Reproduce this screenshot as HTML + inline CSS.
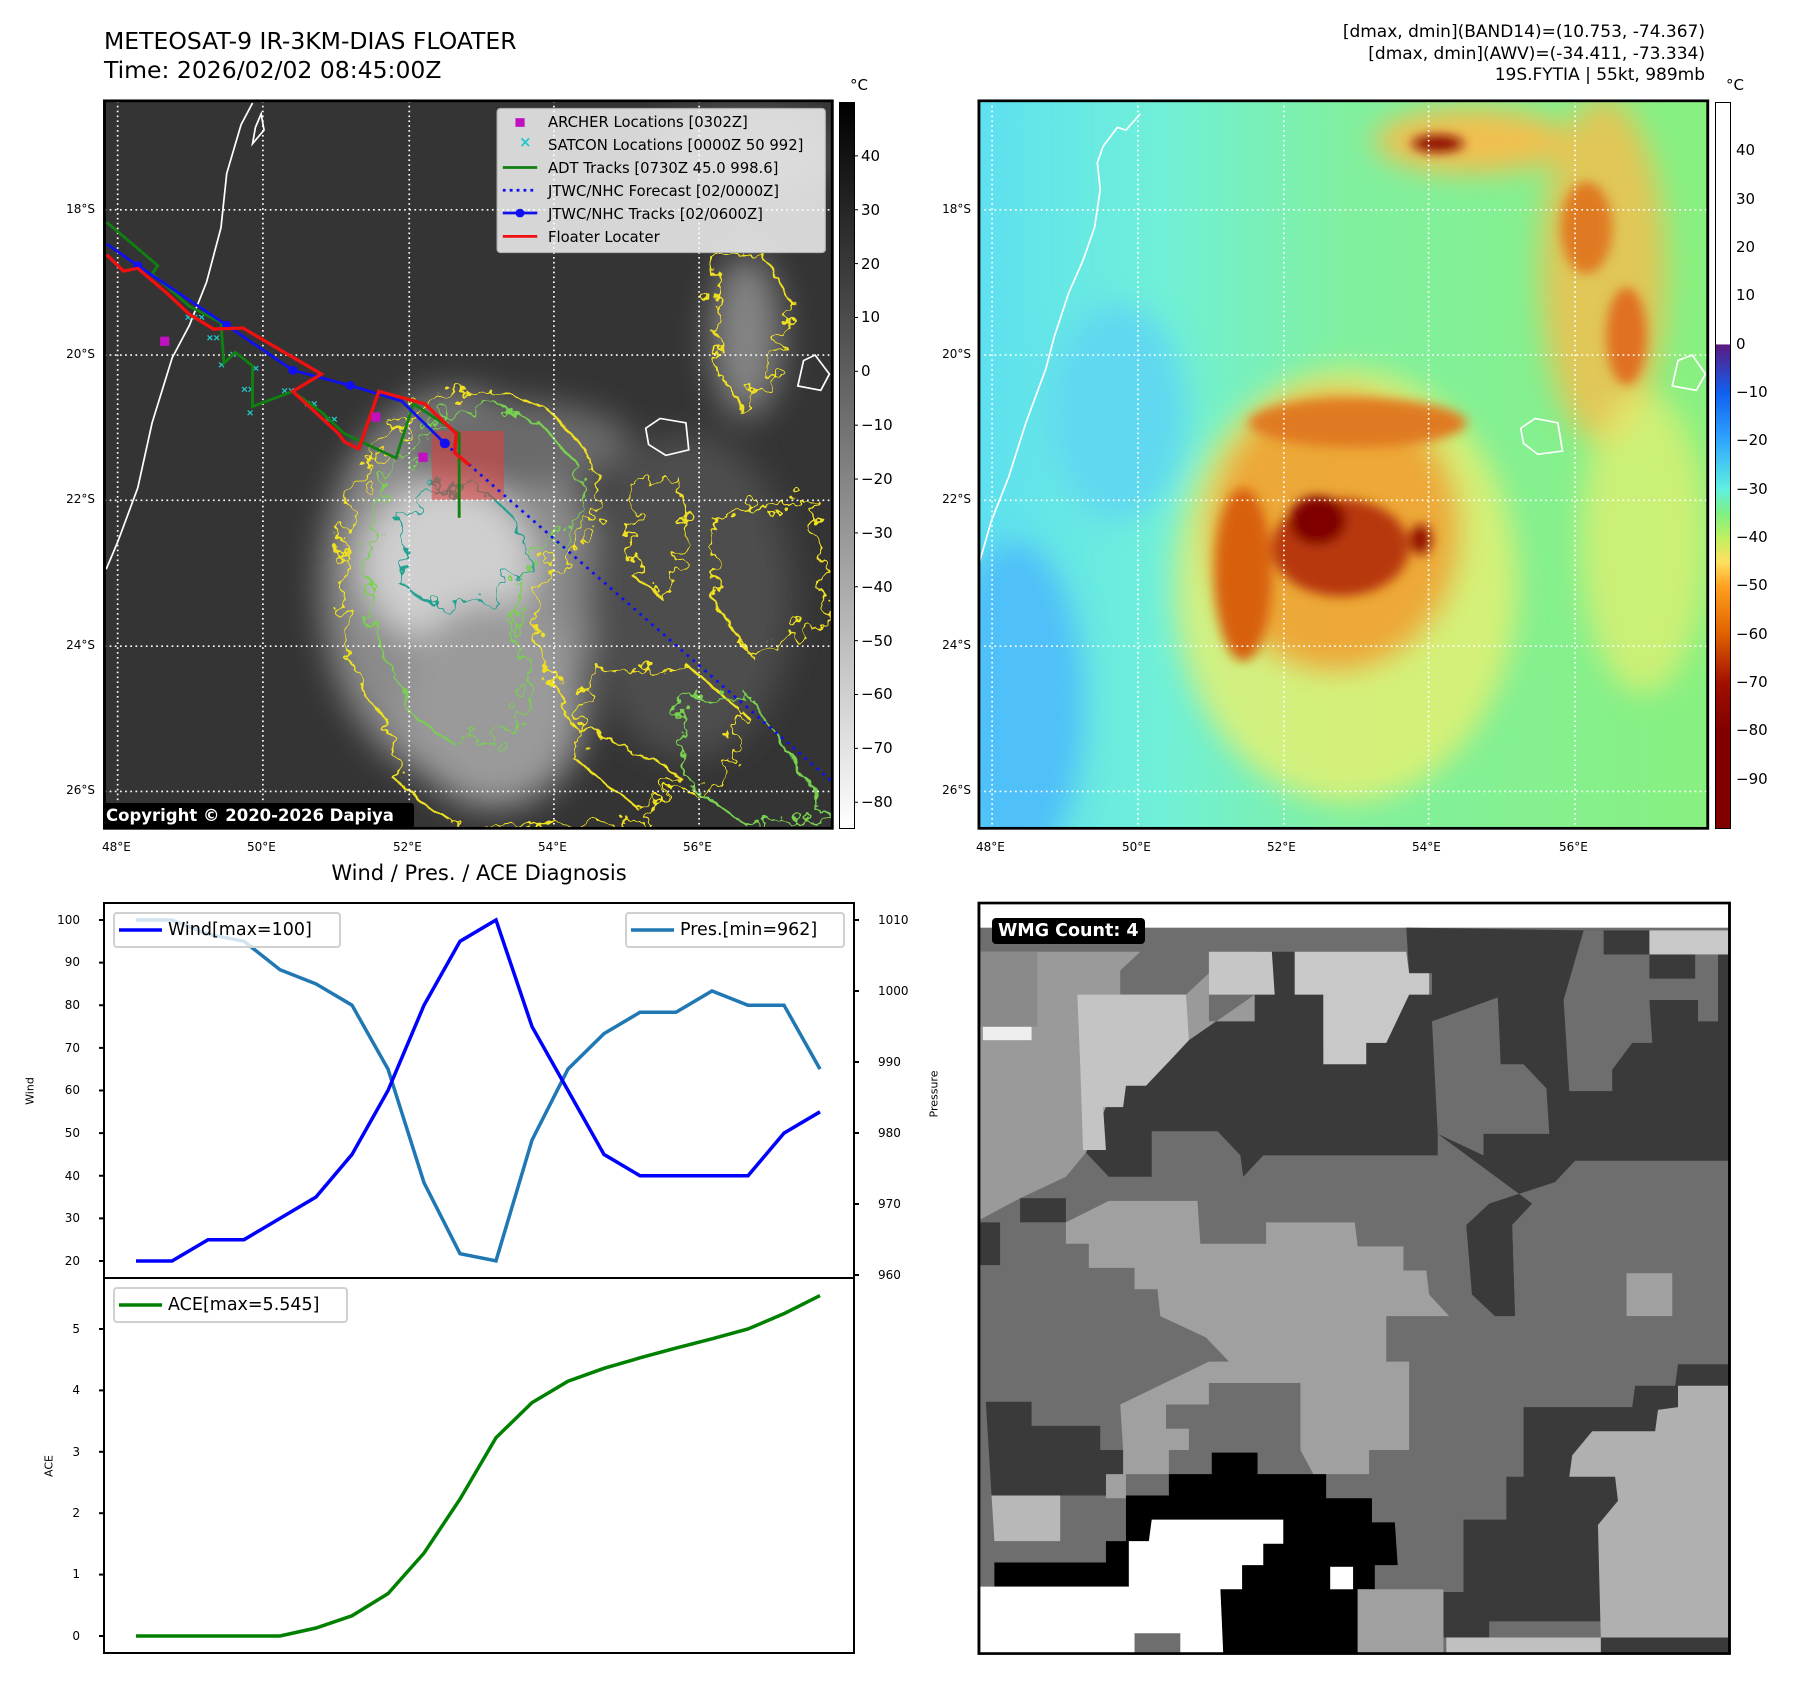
<!DOCTYPE html>
<html><head><meta charset="utf-8">
<style>
body{margin:0;background:#fff;}
#root{position:relative;width:1797px;height:1690px;overflow:hidden;background:#fff;font-family:"DejaVu Sans","Liberation Sans",sans-serif;color:#000;}
.t{position:absolute;white-space:nowrap;}
svg{position:absolute;}
</style></head>
<body>
<div id="root">

<div class="t" style="left:104px;top:27px;font-size:23.5px;line-height:29px;">METEOSAT-9 IR-3KM-DIAS FLOATER<br>Time: 2026/02/02 08:45:00Z</div>
<div class="t" style="right:92px;top:22px;font-size:17px;line-height:21.5px;text-align:right;">[dmax, dmin](BAND14)=(10.753, -74.367)<br>[dmax, dmin](AWV)=(-34.411, -73.334)<br>19S.FYTIA | 55kt, 989mb</div>

<!-- LEFT MAP -->
<svg style="left:0;top:0" width="900" height="850" viewBox="0 0 1568 1568" preserveAspectRatio="none">
<defs>
<clipPath id="c1"><rect x="182" y="186" width="1268" height="1342"/></clipPath>
<filter id="bl" x="-50%" y="-50%" width="200%" height="200%"><feGaussianBlur stdDeviation="30"/></filter>
<filter id="wig" x="-20%" y="-20%" width="140%" height="140%"><feTurbulence type="fractalNoise" baseFrequency="0.03" numOctaves="3" seed="3"/><feDisplacementMap in="SourceGraphic" scale="70"/></filter>
</defs>
<g clip-path="url(#c1)">
<rect x="182" y="186" width="1268" height="1342" fill="#343434"/>
<g filter="url(#bl)">
<ellipse cx="800" cy="1080" rx="240" ry="360" fill="#8a8a8a"/>
<ellipse cx="780" cy="1040" rx="150" ry="150" fill="#cfcfcf"/>
<ellipse cx="860" cy="1300" rx="160" ry="190" fill="#9a9a9a"/>
<ellipse cx="1300" cy="620" rx="60" ry="150" fill="#858585"/>
<ellipse cx="900" cy="820" rx="200" ry="80" fill="#6a6a6a"/>
<ellipse cx="1200" cy="1100" rx="180" ry="300" fill="#4e4e4e"/>
<ellipse cx="1300" cy="280" rx="160" ry="90" fill="#505050"/>
</g>
<g fill="none" stroke-width="4" filter="url(#wig)">
<path d="M600,1000 L620,900 690,800 760,730 870,720 960,760 1020,830 1050,920 1010,1000 940,1060 930,1150 960,1250 1000,1340 1100,1380 1180,1430 1120,1520 800,1528 700,1450 680,1340 620,1250 600,1150Z" stroke="#f0e020"/>
<path d="M640,1000 L660,910 720,820 780,760 870,750 950,790 1000,850 1020,930 980,990 910,1040 900,1150 920,1260 900,1340 800,1380 720,1320 690,1240 640,1150Z" stroke="#78d050"/>
<path d="M700,960 L760,900 840,900 900,960 920,1040 860,1100 760,1120 700,1080Z" stroke="#20a090"/>
<path d="M1240,480 L1330,470 1380,560 1340,700 1290,760 1260,700 1250,600Z" stroke="#f0e020"/>
<path d="M1100,900 L1180,880 1200,1000 1150,1100 1100,1060Z" stroke="#f0e020"/>
<path d="M1250,950 L1420,920 1440,1150 1300,1200 1240,1100Z" stroke="#f0e020"/>
<path d="M1020,1250 L1200,1230 1300,1320 1250,1450 1100,1480 1000,1400Z" stroke="#f0e020"/>
<path d="M1180,1300 L1300,1280 1380,1400 1440,1500 1300,1520 1200,1450Z" stroke="#78d050"/>
</g>
<rect x="752" y="795" width="126" height="127" fill="#e04040" opacity="0.55"/>
<path d="M440,190 L420,230 395,320 385,420 360,520 330,600 300,660 265,780 240,900 205,1000 185,1050" fill="none" stroke="#fff" stroke-width="3"/>
<path d="M455,210 L460,240 440,265 445,235Z" fill="none" stroke="#fff" stroke-width="3"/>
<path d="M1125,790 L1150,772 1195,780 1200,830 1160,840 1130,820Z" fill="none" stroke="#fff" stroke-width="3"/>
<path d="M1390,712 L1400,665 1420,655 1445,690 1430,720Z" fill="none" stroke="#fff" stroke-width="3"/>
<g stroke="#fff" stroke-width="3" stroke-dasharray="3 6" fill="none">
<path d="M205,186V1528M458,186V1528M713,186V1528M965,186V1528M1218,186V1528"/>
<path d="M182,387H1450M182,655H1450M182,923H1450M182,1192H1450M182,1460H1450"/>
</g>
<g fill="#20c8c8" font-size="20" font-weight="bold" font-family="Liberation Sans,sans-serif">
<text x="322" y="592">×××</text><text x="360" y="630">××</text><text x="380" y="680">×</text><text x="400" y="660">×</text><text x="440" y="686">×</text><text x="420" y="725">××</text><text x="430" y="768">×</text><text x="490" y="728">××</text><text x="530" y="752">××</text><text x="565" y="780">××</text>
</g>
<polyline points="186,410 275,490 265,505 330,565 385,595 390,670 410,650 440,675 440,750 510,722 560,760 600,800 690,845 720,745 800,800 800,955" fill="none" stroke="#108010" stroke-width="5"/>
<polyline points="186,450 240,490 395,600 510,683 610,711 700,740 775,818" fill="none" stroke="#1010f0" stroke-width="5"/>
<g fill="#1010f0"><circle cx="240" cy="490" r="8"/><circle cx="395" cy="600" r="8"/><circle cx="510" cy="683" r="8"/><circle cx="610" cy="711" r="8"/><circle cx="775" cy="818" r="9"/></g>
<line x1="775" y1="818" x2="1450" y2="1442" stroke="#1010f0" stroke-width="5" stroke-dasharray="5 9"/>
<polyline points="186,470 215,500 240,495 290,540 330,580 372,607 423,605 560,690 510,722 590,800 600,815 625,828 660,722 740,745 795,800 792,835 818,858" fill="none" stroke="#f01010" stroke-width="6"/>
<g fill="#c010c0"><rect x="279" y="621" width="16" height="17"/><rect x="647" y="761" width="16" height="17"/><rect x="729" y="835" width="16" height="17"/></g>
<rect x="866" y="200" width="572" height="266" rx="6" fill="#fff" opacity="0.8" stroke="#ccc" stroke-width="2"/>
<rect x="898" y="218" width="16" height="16" fill="#c010c0"/>
<line x1="876" y1="309" x2="936" y2="309" stroke="#108010" stroke-width="5"/>
<line x1="876" y1="351" x2="936" y2="351" stroke="#1010f0" stroke-width="5" stroke-dasharray="5 7"/>
<line x1="876" y1="393" x2="936" y2="393" stroke="#1010f0" stroke-width="5"/><circle cx="906" cy="393" r="8" fill="#1010f0"/>
<line x1="876" y1="436" x2="936" y2="436" stroke="#f01010" stroke-width="5"/>
</g>
<rect x="182" y="186" width="1268" height="1342" fill="none" stroke="#000" stroke-width="5"/>
</svg>
<div class="t" style="left:519px;top:133px;color:#20c8c8;font-size:15px;font-weight:bold;">×</div>
<div class="t" style="left:548px;top:111px;font-size:14.8px;line-height:23px;">ARCHER Locations [0302Z]<br>SATCON Locations [0000Z 50 992]<br>ADT Tracks [0730Z 45.0 998.6]<br>JTWC/NHC Forecast [02/0000Z]<br>JTWC/NHC Tracks [02/0600Z]<br>Floater Locater</div>
<div class="t" style="left:103px;top:803px;width:311px;height:25px;background:#000;color:#fff;font-weight:bold;font-size:16.5px;line-height:25px;padding-left:3px;box-sizing:border-box;border-radius:3px;">Copyright © 2020-2026 Dapiya</div>

<div>
<div class="t" style="right:1702px;top:202px;font-size:12px;">18°S</div>
<div class="t" style="right:1702px;top:347px;font-size:12px;">20°S</div>
<div class="t" style="right:1702px;top:492px;font-size:12px;">22°S</div>
<div class="t" style="right:1702px;top:638px;font-size:12px;">24°S</div>
<div class="t" style="right:1702px;top:783px;font-size:12px;">26°S</div>
</div>
<div>
<div class="t" style="left:102px;top:840px;font-size:12px;">48°E</div>
<div class="t" style="left:247px;top:840px;font-size:12px;">50°E</div>
<div class="t" style="left:393px;top:840px;font-size:12px;">52°E</div>
<div class="t" style="left:538px;top:840px;font-size:12px;">54°E</div>
<div class="t" style="left:683px;top:840px;font-size:12px;">56°E</div>
</div>

<div style="position:absolute;left:839px;top:102px;width:14px;height:725px;border:1px solid #000;background:linear-gradient(#000,#fff);"></div>
<div class="t" style="left:850px;top:76px;font-size:15px;">°C</div>

<!-- RIGHT MAP -->
<svg style="left:900px;top:0" width="897" height="850" viewBox="0 0 1568 1568" preserveAspectRatio="none">
<defs>
<clipPath id="c2"><rect x="138" y="186" width="1274" height="1342"/></clipPath>
<linearGradient id="sea" x1="0" x2="1" y1="0" y2="0"><stop offset="0" stop-color="#5ee0f0"/><stop offset="0.25" stop-color="#70f0d8"/><stop offset="0.5" stop-color="#80f0a0"/><stop offset="1" stop-color="#88f080"/></linearGradient>
<filter id="bb" x="-50%" y="-50%" width="200%" height="200%"><feGaussianBlur stdDeviation="25"/></filter>
<filter id="bs" x="-50%" y="-50%" width="200%" height="200%"><feGaussianBlur stdDeviation="10"/></filter>
</defs>
<g clip-path="url(#c2)">
<rect x="138" y="186" width="1274" height="1342" fill="url(#sea)"/>
<g filter="url(#bb)">
<ellipse cx="200" cy="1300" rx="120" ry="300" fill="#50c0f8"/>
<ellipse cx="380" cy="760" rx="120" ry="200" fill="#60d8f0"/>
<ellipse cx="780" cy="1080" rx="300" ry="400" fill="#e8f070" opacity="0.8"/>
<ellipse cx="760" cy="980" rx="220" ry="260" fill="#f0a030" opacity="0.9"/>
<ellipse cx="1230" cy="500" rx="110" ry="320" fill="#f0c050" opacity="0.85"/>
<ellipse cx="1000" cy="260" rx="170" ry="60" fill="#f0c050"/>
<ellipse cx="1300" cy="1000" rx="110" ry="280" fill="#e8f070" opacity="0.7"/>
</g>
<g filter="url(#bs)">
<ellipse cx="600" cy="1060" rx="50" ry="160" fill="#d86010"/>
<ellipse cx="800" cy="780" rx="190" ry="45" fill="#e07a20"/>
<ellipse cx="770" cy="1010" rx="120" ry="90" fill="#b83808"/>
<ellipse cx="730" cy="960" rx="50" ry="45" fill="#800000"/>
<ellipse cx="910" cy="995" rx="18" ry="28" fill="#900a00"/>
<ellipse cx="940" cy="265" rx="45" ry="16" fill="#900a00"/>
<ellipse cx="1270" cy="620" rx="35" ry="90" fill="#e07020"/>
<ellipse cx="1200" cy="420" rx="45" ry="85" fill="#e07a20"/>
</g>
<path d="M420,210 L395,240 380,235 355,270 345,300 350,350 340,420 320,480 295,540 270,620 255,680 220,780 190,880 160,960 138,1040" fill="none" stroke="#fff" stroke-width="3"/>
<path d="M1085,790 L1110,772 1150,780 1158,832 1115,838 1090,818Z" fill="none" stroke="#fff" stroke-width="3"/>
<path d="M1350,712 L1360,665 1385,655 1408,690 1392,720Z" fill="none" stroke="#fff" stroke-width="3"/>
<g stroke="#fff" stroke-width="3" stroke-dasharray="3 6" fill="none">
<path d="M161,186V1528M416,186V1528M671,186V1528M924,186V1528M1180,186V1528"/>
<path d="M138,387H1412M138,655H1412M138,923H1412M138,1192H1412M138,1460H1412"/>
</g>
</g>
<rect x="138" y="186" width="1274" height="1342" fill="none" stroke="#000" stroke-width="5"/>
</svg>
<div>
<div class="t" style="right:826px;top:202px;font-size:12px;">18°S</div>
<div class="t" style="right:826px;top:347px;font-size:12px;">20°S</div>
<div class="t" style="right:826px;top:492px;font-size:12px;">22°S</div>
<div class="t" style="right:826px;top:638px;font-size:12px;">24°S</div>
<div class="t" style="right:826px;top:783px;font-size:12px;">26°S</div>
</div>
<div>
<div class="t" style="left:976px;top:840px;font-size:12px;">48°E</div>
<div class="t" style="left:1122px;top:840px;font-size:12px;">50°E</div>
<div class="t" style="left:1267px;top:840px;font-size:12px;">52°E</div>
<div class="t" style="left:1412px;top:840px;font-size:12px;">54°E</div>
<div class="t" style="left:1559px;top:840px;font-size:12px;">56°E</div>
</div>
<div style="position:absolute;left:1715px;top:102px;width:14px;height:725px;border:1px solid #000;background:linear-gradient(#fff 0%,#fff 33.2%,#5a1a80 33.4%,#1060f0 40%,#30a8ff 46.7%,#60f0e0 53.3%,#80f080 56.7%,#c0f060 60%,#ffe060 63.3%,#ffa020 66.7%,#e06000 73.3%,#a01000 80%,#800000 86.7%,#800000 100%);"></div>
<div class="t" style="left:1726px;top:76px;font-size:15px;">°C</div>

<!-- BOTTOM RIGHT WMG -->
<svg style="left:900px;top:850px" width="897" height="840" viewBox="0 0 1568 1568" preserveAspectRatio="none">
<defs><clipPath id="c3"><rect x="138" y="99" width="1312" height="1401"/></clipPath></defs>
<g clip-path="url(#c3)">
<rect x="138" y="99" width="1312" height="1401" fill="#fff"/>
<rect x="140" y="145" width="1310" height="1355" fill="#6e6e6e"/>
<polygon fill="#3a3a3a" points="360,480 395,400 470,395 505,355 620,270 620,190 690,190 690,270 740,270 740,360 850,360 890,270 930,270 930,230 890,230 885,145 1195,150 1450,150 1450,580 1180,580 1145,620 1030,660 990,700 1000,830 1075,870 1070,700 1105,660 940,530 940,570 635,570 600,610 595,570 555,525 440,525 440,610 365,610 325,565"/>
<polygon fill="#6e6e6e" points="930,320 1045,275 1050,400 1090,400 1130,445 1135,530 1020,530 1020,570 940,530"/>
<polygon fill="#6e6e6e" points="1160,280 1310,280 1315,360 1280,360 1245,410 1245,450 1170,450"/>
<polygon fill="#6e6e6e" points="1195,150 1230,150 1230,195 1310,195 1310,240 1390,240 1390,195 1430,195 1430,320 1395,320 1395,280 1160,280"/>
<rect x="1310" y="150" width="140" height="45" fill="#c8c8c8"/>
<polygon fill="#9a9a9a" points="140,190 420,190 385,225 385,270 500,270 540,230 540,320 620,320 620,270 505,355 470,395 395,400 355,440 360,480 325,565 290,610 210,650 140,690"/>
<polygon fill="#c4c4c4" points="310,270 385,270 500,270 505,355 470,395 430,440 395,440 390,480 355,480 360,560 320,560 315,400"/>
<polygon fill="#c6c6c6" points="540,190 650,190 655,270 540,270"/>
<polygon fill="#c8c8c8" points="690,190 885,190 890,230 925,230 925,270 890,270 850,360 815,360 815,400 740,400 740,270 690,270"/>
<rect x="145" y="310" width="85" height="45" fill="#eee"/>
<rect x="140" y="190" width="100" height="140" fill="#8a8a8a"/>
<polygon fill="#a0a0a0" points="290,695 365,655 520,655 525,735 640,735 640,695 795,695 800,740 880,740 880,785 920,785 925,830 960,870 850,870 850,955 890,955 890,1120 820,1120 820,1165 745,1165 745,1210 700,1120 700,995 540,995 540,1035 465,1035 465,1080 505,1080 505,1120 470,1120 470,1165 395,1165 395,1210 360,1210 360,1120 390,1120 385,1035 540,955 575,955 535,910 455,870 450,820 410,820 410,780 330,780 330,735 290,735"/>
<polygon fill="#3a3a3a" points="150,1030 230,1030 230,1075 350,1075 350,1120 390,1120 390,1165 360,1165 360,1205 160,1205"/>
<polygon fill="#3a3a3a" points="140,695 175,695 175,775 140,775"/>
<rect x="210" y="650" width="80" height="45" fill="#3a3a3a"/>
<polygon fill="#b8b8b8" points="160,1205 280,1205 280,1290 165,1290"/>
<polygon fill="#000" points="395,1205 470,1205 470,1165 545,1165 545,1125 625,1125 625,1165 745,1165 745,1210 825,1210 825,1255 865,1255 870,1335 830,1335 830,1380 800,1380 800,1500 565,1500 560,1380 400,1375 165,1375 165,1330 360,1330 360,1290 395,1290"/>
<polygon fill="#fff" points="440,1250 670,1250 670,1295 635,1295 635,1335 598,1335 598,1380 560,1380 565,1500 490,1500 490,1462 410,1462 410,1500 140,1500 140,1375 400,1375 400,1290 435,1290"/>
<rect x="752" y="1338" width="40" height="42" fill="#fff"/>
<polygon fill="#3a3a3a" points="990,700 1070,700 1075,870 1040,870 1000,830"/>
<polygon fill="#3a3a3a" points="1090,1040 1280,1040 1285,1000 1355,1000 1360,960 1450,960 1450,1500 1225,1500 1225,1440 1030,1440 1030,1470 950,1470 950,1385 985,1385 985,1250 1060,1250 1060,1170 1090,1170"/>
<polygon fill="#b0b0b0" points="1360,1000 1450,1000 1450,1470 1225,1470 1220,1260 1255,1215 1250,1170 1170,1170 1175,1130 1210,1085 1320,1085 1325,1045 1360,1040"/>
<rect x="1270" y="790" width="80" height="80" fill="#a0a0a0"/>
<rect x="955" y="1470" width="270" height="30" fill="#c0c0c0"/>
<rect x="800" y="1380" width="150" height="120" fill="#a0a0a0"/>
</g>
<rect x="138" y="99" width="1312" height="1401" fill="none" stroke="#000" stroke-width="5"/>
</svg>
<div class="t" style="left:992px;top:918px;background:#000;color:#fff;font-weight:bold;font-size:17.5px;line-height:26px;padding:0 6px;border-radius:4px;">WMG Count: 4</div>

<!-- BOTTOM LEFT CHART -->
<div class="t" style="left:479px;top:861px;font-size:21px;transform:translateX(-50%);">Wind / Pres. / ACE Diagnosis</div>
<svg id="chart" style="left:0;top:0" width="1797" height="1690"></svg>
<div class="t" style="left:30px;top:1091px;font-size:11px;transform:translate(-50%,-50%) rotate(-90deg);">Wind</div>
<div class="t" style="left:49px;top:1466px;font-size:11px;transform:translate(-50%,-50%) rotate(-90deg);">ACE</div>
<div class="t" style="left:934px;top:1094px;font-size:11px;transform:translate(-50%,-50%) rotate(-90deg);">Pressure</div>
</div>

<script>
var cb1Ticks=[40,30,20,10,0,-10,-20,-30,-40,-50,-60,-70,-80];
var cb2Ticks=[40,30,20,10,0,-10,-20,-30,-40,-50,-60,-70,-80,-90];
var windValues=[20,20,25,25,30,35,45,60,80,95,100,75,60,45,40,40,40,40,50,55];
var presValues=[1010,1010,1008,1007,1003,1001,998,989,973,963,962,979,989,994,997,997,1000,998,998,989];
var aceValues=[0,0,0,0,0,0.13,0.33,0.69,1.35,2.23,3.23,3.8,4.15,4.36,4.53,4.69,4.84,5.0,5.25,5.545];
var windTicks=[20,30,40,50,60,70,80,90,100];
var presTicks=[960,970,980,990,1000,1010];
var aceTicks=[0,1,2,3,4,5];

(function(){
var root=document.getElementById('root');
function lab(txt,x,y,align,size,name){
  var d=document.createElement('div');
  d.className='t';
  d.textContent=txt;
  d.style.fontSize=size+'px';
  d.style.top=(y-size*0.6)+'px';
  if(align==='r'){d.style.right=(1797-x)+'px';}else{d.style.left=x+'px';}
  
  
  root.appendChild(d);
}
function cbY1(v){return 102+(50-v)/(50+84.6)*725;}
function cbY2(v){return 102+(50-v)/150*725;}
cb1Ticks.forEach(function(v){lab(String(v).replace('-','−'),861,cbY1(v),'l',15,'ir-colorbar-tick');});
cb2Ticks.forEach(function(v){lab(String(v).replace('-','−'),1736,cbY2(v),'l',15,'awv-colorbar-tick');});
var NS='http://www.w3.org/2000/svg';
var svg=document.getElementById('chart');
function el(tag,attrs){var e=document.createElementNS(NS,tag);for(var k in attrs)e.setAttribute(k,attrs[k]);svg.appendChild(e);return e;}
var L=104,R=854,T=903,M=1278,B=1653;
var x0=136,x1=820;
function xs(i){return x0+(x1-x0)*i/(windValues.length-1);}
function yW(v){return 1261-(v-20)*(1261-920)/80;}
function yP(v){return 1275-(v-960)*(1275-920)/50;}
function yA(v){return 1636-v*(1636-1329)/5;}
cb1Ticks.forEach(function(v){var t=el('line',{x1:854,x2:858,y1:cbY1(v),y2:cbY1(v),stroke:'#000','stroke-width':1});});
function pts(arr,f){return arr.map(function(v,i){return xs(i)+','+f(v);}).join(' ');}
var pl=el('polyline',{points:pts(presValues,yP),fill:'none',stroke:'#1f77b4','stroke-width':3.5});


var wl=el('polyline',{points:pts(windValues,yW),fill:'none',stroke:'#0000ff','stroke-width':3.5});


var al=el('polyline',{points:pts(aceValues,yA),fill:'none',stroke:'#008000','stroke-width':3.5});


var f1=el('rect',{x:L,y:T,width:R-L,height:M-T,fill:'none',stroke:'#000','stroke-width':2});


var f2=el('rect',{x:L,y:M,width:R-L,height:B-M,fill:'none',stroke:'#000','stroke-width':2});


windTicks.forEach(function(v){
  var t=el('line',{x1:L-5,x2:L,y1:yW(v),y2:yW(v),stroke:'#000','stroke-width':2});
  
  
  lab(String(v),80,yW(v),'r',12,'wind-tick-label');
});
presTicks.forEach(function(v){
  var t=el('line',{x1:R,x2:R+5,y1:yP(v),y2:yP(v),stroke:'#000','stroke-width':2});
  
  
  lab(String(v),878,yP(v),'l',12,'pressure-tick-label');
});
aceTicks.forEach(function(v){
  var t=el('line',{x1:L-5,x2:L,y1:yA(v),y2:yA(v),stroke:'#000','stroke-width':2});
  
  
  lab(String(v),80,yA(v),'r',12,'ace-tick-label');
});
function legend(x,y,w,color,txt,name){
  var r=el('rect',{x:x,y:y,width:w,height:34,rx:3,fill:'#fff','fill-opacity':0.8,stroke:'#d0d0d0','stroke-width':2});
  
  
  el('line',{x1:x+5,x2:x+48,y1:y+17,y2:y+17,stroke:color,'stroke-width':3.5});
  lab(txt,x+54,y+17,'l',17.5,name+'-label');
}
legend(114,913,226,'#0000ff','Wind[max=100]','wind-legend');
legend(626,913,218,'#1f77b4','Pres.[min=962]','pressure-legend');
legend(114,1288,233,'#008000','ACE[max=5.545]','ace-legend');
})();
</script>
</body></html>
